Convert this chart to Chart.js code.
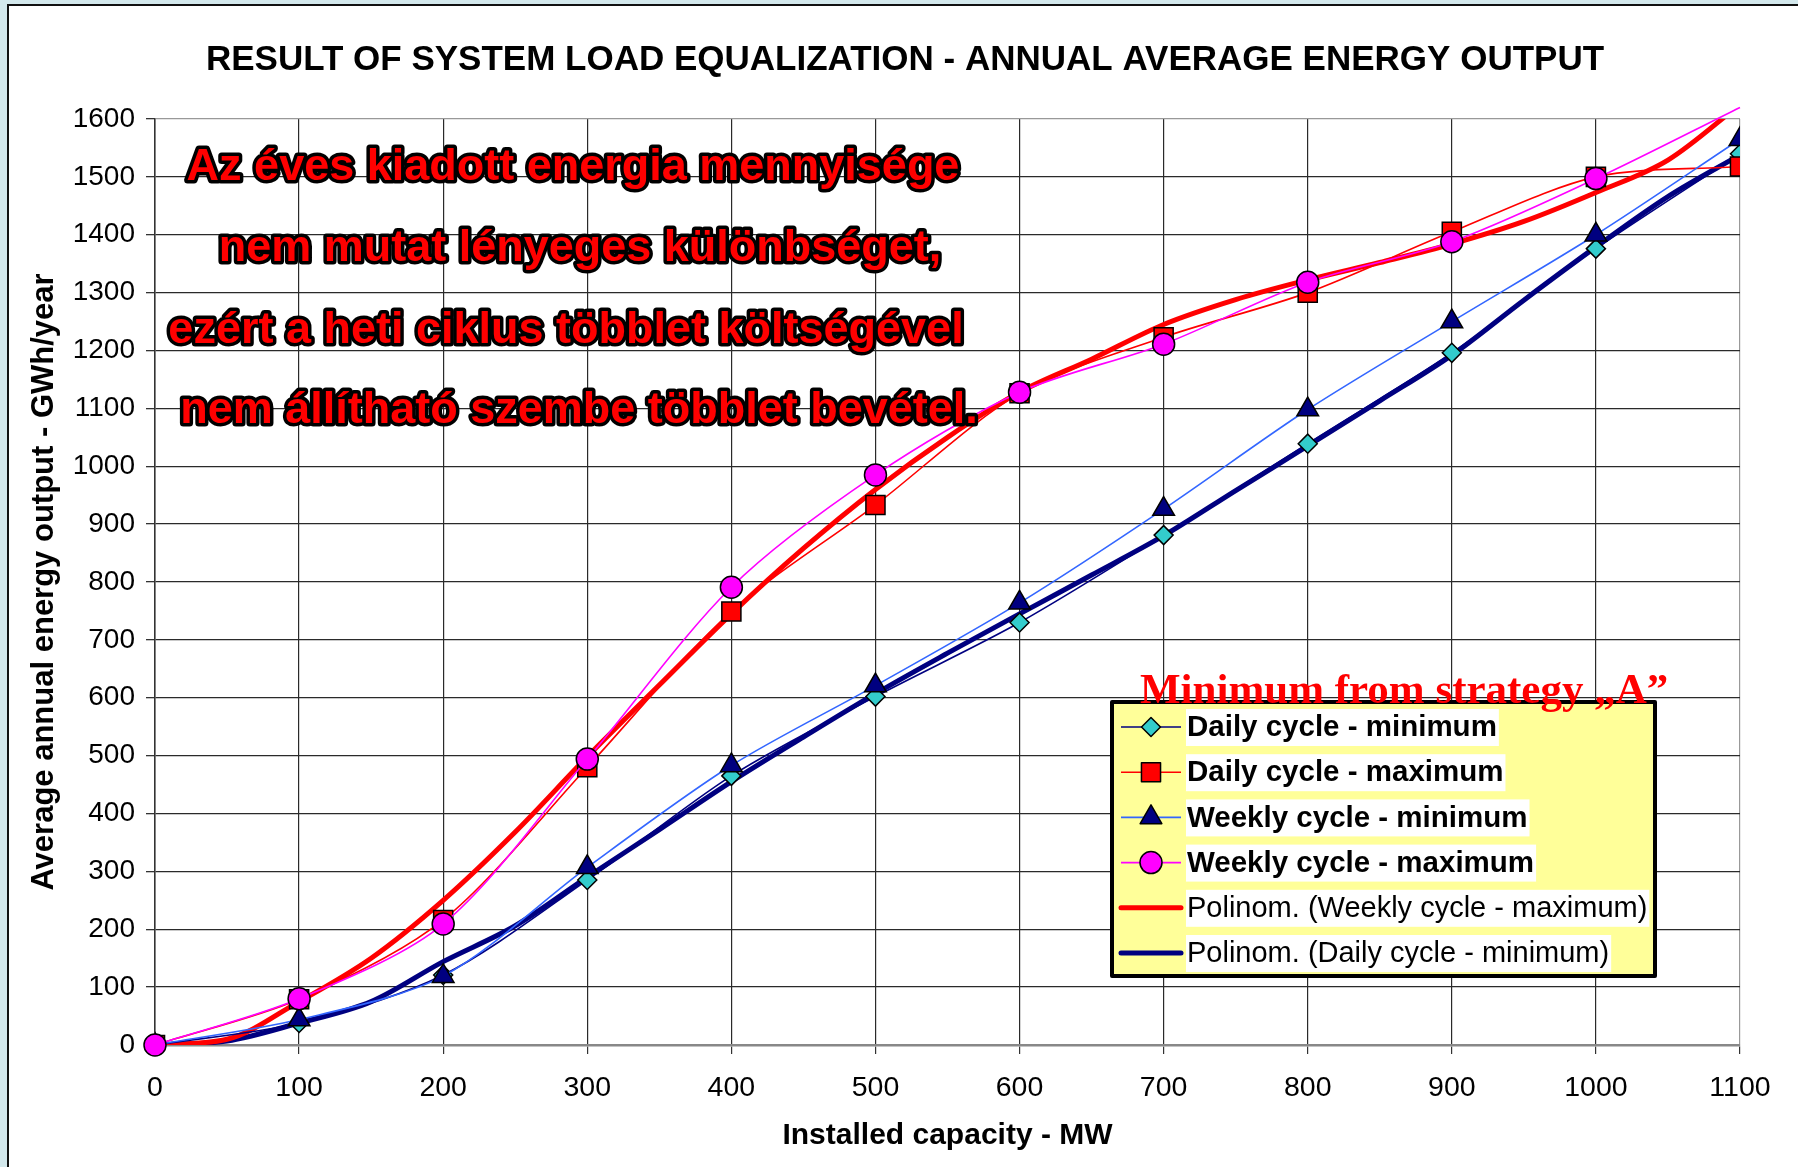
<!DOCTYPE html>
<html>
<head>
<meta charset="utf-8">
<title>Result of system load equalization</title>
<script src="https://cdn.jsdelivr.net/npm/chart.js@4.4.1/dist/chart.umd.min.js"></script>
<style>
  html, body { margin: 0; padding: 0; overflow: hidden; background: #d3e8ec; }
  #sheet { position: absolute; left: 7px; top: 4px; width: 1791px; height: 1163px; background: #fff;
           border-left: 2px solid #111; border-top: 2px solid #111; box-sizing: border-box; }
  #chart { position: absolute; left: 0; top: 0; }
</style>
</head>
<body>
<div id="sheet"></div>
<canvas id="chart" width="1798" height="1167"></canvas>
<script>
// installed capacity (MW) and annual energy output (GWh/year)
const capacity  = [0, 100, 200, 300, 400, 500, 600, 700, 800, 900, 1000, 1100];
const dailyMin  = [0, 38, 121, 285, 465, 602, 730, 881, 1039, 1196, 1376, 1540];
const dailyMax  = [0, 79, 216, 480, 749, 933, 1126, 1223, 1300, 1405, 1500, 1518];
const weeklyMin = [0, 44, 119, 307, 483, 621, 764, 926, 1098, 1250, 1400, 1565];
const weeklyMax = [0, 80, 209, 494, 791, 985, 1128, 1211, 1318, 1388, 1497, 1620];

// polynomial trend lines, read every 50 MW
const trendCapacity  = [0, 50, 100, 150, 200, 250, 300, 350, 400, 450, 500, 550, 600,
                        650, 700, 750, 800, 850, 900, 950, 1000, 1050, 1100];
const trendWeeklyMax = [0, 10, 75, 150, 250, 368, 498, 622, 745, 858, 960, 1050, 1128,
                        1185, 1245, 1288, 1322, 1352, 1384, 1423, 1473, 1529, 1625];
const trendDailyMin  = [0, 7, 38, 75, 144, 206, 290, 372, 455, 532, 607, 677, 745,
                        812, 880, 958, 1035, 1113, 1192, 1287, 1379, 1466, 1538];

const yTicks = [0, 1600, 100];
const xTicks = [0, 1100, 100];

const chartTitle = 'RESULT OF SYSTEM LOAD EQUALIZATION - ANNUAL AVERAGE ENERGY OUTPUT';
const noteLines = [
  'Az éves kiadott energia mennyisége',
  'nem mutat lényeges különbséget,',
  'ezért a heti ciklus többlet költségével',
  'nem állítható szembe többlet bevétel.'
];
const legendHeading = 'Minimum from strategy \u201EA\u201D';

const FONT = '"Liberation Sans", Arial, sans-serif';

function pairs(xs, ys) {
  return xs.map((x, i) => ({ x: x, y: ys[i] }));
}

const seriesDailyMin = {
  label: 'Daily cycle - minimum', data: pairs(capacity, dailyMin), order: 4,
  borderColor: '#000080', borderWidth: 1.6, backgroundColor: '#33CCCC',
  pointStyle: 'rectRot', pointRadius: 9.5, pointBorderColor: '#000', pointBorderWidth: 1.5,
  tension: 0.3, legendBold: true
};
const seriesDailyMax = {
  label: 'Daily cycle - maximum', data: pairs(capacity, dailyMax), order: 3,
  borderColor: '#FF0000', borderWidth: 1.6, backgroundColor: '#FF0000',
  pointStyle: 'rect', pointRadius: 13.5, pointBorderColor: '#000', pointBorderWidth: 1.5,
  tension: 0.3, legendBold: true
};
const seriesWeeklyMin = {
  label: 'Weekly cycle - minimum', data: pairs(capacity, weeklyMin), order: 2,
  borderColor: '#3366FF', borderWidth: 1.6, backgroundColor: '#000080',
  pointStyle: 'triangle', pointRadius: 12.5, pointBorderColor: '#000', pointBorderWidth: 1.5,
  tension: 0.3, legendBold: true
};
const seriesWeeklyMax = {
  label: 'Weekly cycle - maximum', data: pairs(capacity, weeklyMax), order: 1,
  borderColor: '#FF00FF', borderWidth: 1.6, backgroundColor: '#FF00FF',
  pointStyle: 'circle', pointBorderColor: '#000', pointBorderWidth: 1.5,
  // markers above the axis maximum are not shown, the line still runs there
  pointRadius: ctx => (ctx.raw && ctx.raw.y > yTicks[1] ? 0 : 11),
  tension: 0.3, clip: false, legendBold: true
};
const trendMax = {
  label: 'Polinom. (Weekly cycle - maximum)', data: pairs(trendCapacity, trendWeeklyMax), order: 5,
  borderColor: '#FF0000', borderWidth: 5, pointRadius: 0, cubicInterpolationMode: 'monotone',
  borderCapStyle: 'round', legendBold: false
};
const trendMin = {
  label: 'Polinom. (Daily cycle - minimum)', data: pairs(trendCapacity, trendDailyMin), order: 6,
  borderColor: '#000080', borderWidth: 5, pointRadius: 0, cubicInterpolationMode: 'monotone',
  borderCapStyle: 'round', legendBold: false
};

const datasets = [seriesDailyMin, seriesDailyMax, seriesWeeklyMin, seriesWeeklyMax, trendMax, trendMin];

function drawMarker(ctx, style, r, x, y) {
  ctx.beginPath();
  if (style === 'circle') {
    ctx.arc(x, y, r, 0, Math.PI * 2);
  } else if (style === 'rect') {
    const s = r * Math.SQRT1_2;
    ctx.rect(x - s, y - s, 2 * s, 2 * s);
  } else if (style === 'rectRot') {
    ctx.moveTo(x, y - r); ctx.lineTo(x + r, y); ctx.lineTo(x, y + r); ctx.lineTo(x - r, y);
    ctx.closePath();
  } else if (style === 'triangle') {
    const a = Math.PI * 2 / 3;
    ctx.moveTo(x, y - r);
    ctx.lineTo(x + Math.sin(a) * r, y - Math.cos(a) * r);
    ctx.lineTo(x - Math.sin(a) * r, y - Math.cos(a) * r);
    ctx.closePath();
  }
  ctx.fill();
  ctx.stroke();
}

// title, note text, legend box and its heading drawn over the plot
const overlayPlugin = {
  id: 'overlay',
  afterDraw(chart) {
    const ctx = chart.ctx;
    ctx.save();

    ctx.font = 'bold 35px ' + FONT;
    ctx.textAlign = 'center';
    ctx.textBaseline = 'alphabetic';
    ctx.fillStyle = '#000';
    ctx.fillText(chartTitle, 905, 70);

    // Hungarian note, red letters with black outline
    ctx.font = 'bold 45px ' + FONT;
    ctx.lineJoin = 'round';
    const noteX = [573, 580, 566, 579];
    const noteY = [180, 261, 343, 423];
    noteLines.forEach((line, i) => {
      ctx.lineWidth = 7;
      ctx.strokeStyle = '#000';
      ctx.strokeText(line, noteX[i], noteY[i]);
      ctx.fillStyle = '#FF0000';
      ctx.fillText(line, noteX[i], noteY[i]);
    });

    // legend box
    const box = { left: 1112, top: 702, right: 1655, bottom: 976 };
    ctx.fillStyle = '#FFFF99';
    ctx.fillRect(box.left, box.top, box.right - box.left, box.bottom - box.top);
    ctx.lineWidth = 4;
    ctx.strokeStyle = '#000';
    ctx.strokeRect(box.left, box.top, box.right - box.left, box.bottom - box.top);

    ctx.textAlign = 'left';
    ctx.textBaseline = 'middle';
    datasets.forEach((ds, i) => {
      const y = 727 + i * 45.2;
      const x0 = 1121, x1 = 1181, tx = 1187;
      ctx.lineCap = ds.borderCapStyle || 'butt';
      ctx.strokeStyle = ds.borderColor;
      ctx.lineWidth = ds.borderWidth;
      ctx.beginPath();
      ctx.moveTo(x0, y); ctx.lineTo(x1, y);
      ctx.stroke();
      ctx.lineCap = 'butt';
      if (ds.pointStyle) {
        ctx.fillStyle = ds.backgroundColor;
        ctx.strokeStyle = '#000';
        ctx.lineWidth = 1.5;
        const r = typeof ds.pointRadius === 'number' ? ds.pointRadius : 11;
        drawMarker(ctx, ds.pointStyle, r, (x0 + x1) / 2, y);
      }
      ctx.font = (ds.legendBold ? 'bold 29.5px ' : '29px ') + FONT;
      const w = ctx.measureText(ds.label).width;
      ctx.fillStyle = '#fff';
      ctx.fillRect(tx - 1, y - 18, w + 3, 37);
      ctx.fillStyle = '#000';
      ctx.fillText(ds.label, tx, y + 1);
    });

    ctx.font = 'bold 43px "Liberation Serif", "Times New Roman", serif';
    ctx.textBaseline = 'alphabetic';
    ctx.fillStyle = '#FF0000';
    ctx.fillText(legendHeading, 1140, 703);

    ctx.restore();
  }
};

new Chart(document.getElementById('chart'), {
  type: 'line',
  data: { datasets: datasets },
  options: {
    responsive: false,
    animation: false,
    devicePixelRatio: 1,
    layout: { padding: { top: 119, right: 58, bottom: 0, left: 0 } },
    plugins: {
      legend: { display: false },
      tooltip: { enabled: false },
      title: { display: false }
    },
    scales: {
      x: {
        type: 'linear',
        min: xTicks[0], max: xTicks[1],
        afterFit(scale) { scale.height = 122; },
        ticks: {
          stepSize: xTicks[2], color: '#000', padding: 17, font: { family: FONT, size: 28.5 },
          callback: v => String(v)
        },
        grid: {
          color: ctx => (ctx.tick && ctx.tick.value === xTicks[1] ? '#999' : '#2a2a2a'),
          lineWidth: 1.2, tickLength: 9, tickColor: '#333'
        },
        border: { display: true, color: '#888', width: 2.5 },
        title: {
          display: true, text: 'Installed capacity - MW', color: '#000',
          font: { family: FONT, size: 30, weight: 'bold' }, padding: { top: 0, bottom: 13 }
        }
      },
      y: {
        min: yTicks[0], max: yTicks[1],
        afterFit(scale) { scale.width = 155; },
        ticks: {
          stepSize: yTicks[2], color: '#000', padding: 11, font: { family: FONT, size: 28 },
          callback: v => String(v)
        },
        grid: {
          color: ctx => (ctx.tick && ctx.tick.value === yTicks[1] ? '#999' : '#2a2a2a'),
          lineWidth: 1.3, tickLength: 9, tickColor: '#333'
        },
        border: { display: true, color: '#333', width: 1.5 },
        title: {
          display: true, text: 'Average annual energy output - GWh/year', color: '#000',
          font: { family: FONT, size: 31, weight: 'bold' }, padding: { top: 26, bottom: 0 }
        }
      }
    }
  },
  plugins: [overlayPlugin]
});
</script>
</body>
</html>
